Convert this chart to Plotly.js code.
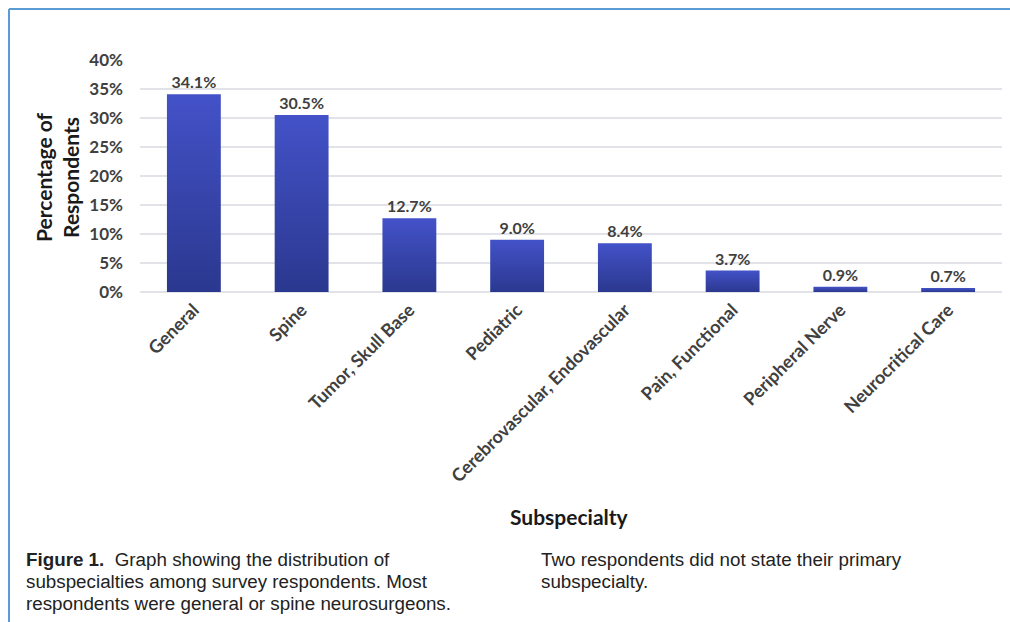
<!DOCTYPE html>
<html>
<head>
<meta charset="utf-8">
<script src="https://cdn.plot.ly/plotly-3.0.1.min.js"></script>
<style>
html,body{margin:0;padding:0;background:#fff;}
#chart{width:1010px;height:622px;}
</style>
</head>
<body>
<div id="chart"></div>
<script>
const categories = ["General", "Spine", "Tumor, Skull Base", "Pediatric", "Cerebrovascular, Endovascular", "Pain, Functional", "Peripheral Nerve", "Neurocritical Care"];
const percentages = [34.1, 30.5, 12.7, 9.0, 8.4, 3.7, 0.9, 0.7];
const yTickValues = [0, 5, 10, 15, 20, 25, 30, 35, 40];
const yTickLabels = ["0%", "5%", "10%", "15%", "20%", "25%", "30%", "35%", "40%"];
const yTitle = "Percentage of<br>Respondents";
const xTitle = "Subspecialty";
const captionLeftLines = ["<b>Figure 1.</b>  Graph showing the distribution of", "subspecialties among survey respondents. Most", "respondents were general or spine neurosurgeons."];
const captionRightLines = ["Two respondents did not state their primary", "subspecialty."];

const W = 1010, H = 622;
const L = 140, R = 8, T = 60, B = 330;
const pw = W - L - R, ph = H - T - B;
const px2x = px => (px - L) / pw;
const py2y = py => (T + ph - py) / ph;

const chartFont = "Lato, 'Open Sans', sans-serif";
const capFont = "'Liberation Sans', Arial, sans-serif";
const labelColor = "#404040";

const trace = {
  type: "bar",
  x: categories,
  y: percentages,
  marker: {color: "#3745a8", line: {width: 0}},
  texttemplate: "%{y:.1f}%",
  textposition: "outside",
  cliponaxis: false,
  textfont: {family: chartFont, size: 16, color: labelColor, weight: "bold"},
  hoverinfo: "x+y"
};

const annotations = [
  {text: "<b>" + yTitle + "</b>", xref: "paper", yref: "paper", x: px2x(57), y: py2y(177),
   xanchor: "center", yanchor: "middle", textangle: -90, showarrow: false,
   font: {family: chartFont, size: 21, color: "#1a1a1a"}},
  {text: "<b>" + xTitle + "</b>", xref: "paper", yref: "paper", x: px2x(569), y: py2y(516),
   xanchor: "center", yanchor: "middle", showarrow: false,
   font: {family: chartFont, size: 21, color: "#1a1a1a"}}
];
const lineY = [559, 581, 603];
captionLeftLines.forEach((t, i) => annotations.push({
  text: t, xref: "paper", yref: "paper", x: px2x(24), y: py2y(lineY[i]),
  xanchor: "left", yanchor: "middle", align: "left", showarrow: false,
  font: {family: capFont, size: 18.8, color: "#222222"}}));
captionRightLines.forEach((t, i) => annotations.push({
  text: t, xref: "paper", yref: "paper", x: px2x(539), y: py2y(lineY[i]),
  xanchor: "left", yanchor: "middle", align: "left", showarrow: false,
  font: {family: capFont, size: 18.8, color: "#222222"}}));

const layout = {
  width: W, height: H,
  margin: {l: L, r: R, t: T, b: B},
  paper_bgcolor: "#ffffff",
  plot_bgcolor: "#ffffff",
  showlegend: false,
  bargap: 0.5,
  font: {family: chartFont, color: labelColor},
  xaxis: {
    type: "category",
    tickangle: -45,
    tickfont: {family: chartFont, size: 18, color: labelColor, weight: "bold"},
    showgrid: false,
    showline: false,
    zeroline: false,
    ticks: "",
    ticklabelstandoff: 3
  },
  yaxis: {
    range: [0, 40],
    tickvals: yTickValues,
    ticktext: yTickLabels,
    tickfont: {family: chartFont, size: 17, color: labelColor, weight: "bold"},
    gridcolor: "#e1e3e8",
    gridwidth: 1.5,
    zeroline: true,
    zerolinecolor: "#e1e3e8",
    zerolinewidth: 1.5,
    showline: false,
    ticks: "",
    ticklabelstandoff: 16
  },
  annotations: annotations,
  shapes: [
    {type: "line", xref: "paper", yref: "paper", x0: px2x(9), x1: px2x(1012), y0: py2y(9), y1: py2y(9),
     line: {color: "#5b9bd5", width: 2}},
    {type: "line", xref: "paper", yref: "paper", x0: px2x(9), x1: px2x(9), y0: py2y(9), y1: py2y(624),
     line: {color: "#5b9bd5", width: 2}}
  ]
};

Plotly.newPlot("chart", [trace], layout, {displayModeBar: false, staticPlot: true}).then(gd => {
  const svg = gd.querySelector("svg.main-svg");
  const ns = "http://www.w3.org/2000/svg";
  let defs = svg.querySelector("defs");
  if (!defs) { defs = document.createElementNS(ns, "defs"); svg.insertBefore(defs, svg.firstChild); }
  const grad = document.createElementNS(ns, "linearGradient");
  grad.setAttribute("id", "barGrad");
  grad.setAttribute("x1", "0"); grad.setAttribute("y1", "0");
  grad.setAttribute("x2", "0"); grad.setAttribute("y2", "1");
  const s1 = document.createElementNS(ns, "stop");
  s1.setAttribute("offset", "0"); s1.setAttribute("stop-color", "#4352c8");
  const s2 = document.createElementNS(ns, "stop");
  s2.setAttribute("offset", "1"); s2.setAttribute("stop-color", "#2b388f");
  grad.appendChild(s1); grad.appendChild(s2);
  defs.appendChild(grad);
  gd.querySelectorAll(".barlayer .point path").forEach(p => { p.style.fill = "url(#barGrad)"; });
});
</script>
</body>
</html>
